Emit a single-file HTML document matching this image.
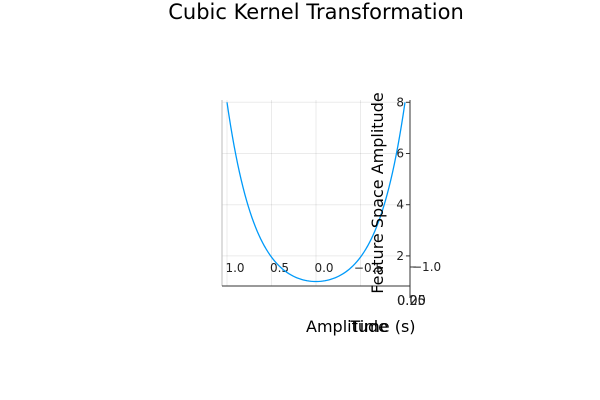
<!DOCTYPE html>
<html><head><meta charset="utf-8"><style>
body{margin:0;background:#fff;}
svg{display:block;font-family:"DejaVu Sans","Liberation Sans",sans-serif;}
</style></head><body>
<svg id="chart" width="600" height="400" viewBox="0 0 600 400">
<rect width="600" height="400" fill="#fff"/>
<text x="316" y="19" font-size="21" text-anchor="middle" fill="#000">Cubic Kernel Transformation</text>
<g id="grid"></g>
<line x1="222" y1="100" x2="222" y2="286" stroke="#bbb" stroke-width="1"/>
<line x1="222" y1="286" x2="410" y2="286" stroke="#333" stroke-width="1"/>
<line x1="410" y1="100" x2="410" y2="298" stroke="#333" stroke-width="1"/>
<g id="xticks"></g>
<g id="yticks"></g>
<path id="curve" fill="none" stroke="#009af9" stroke-width="1.3"/>
<line x1="410" y1="267" x2="416" y2="267" stroke="#333"/>
<text x="412" y="271" font-size="12" fill="#222">−1.0</text>
<text x="397" y="305" font-size="13" fill="#222">0.00</text>
<text x="397" y="305" font-size="13" fill="#222">0.25</text>
<text x="347" y="332" font-size="16" text-anchor="middle" fill="#000">Amplitude</text>
<text x="383" y="332" font-size="16" text-anchor="middle" fill="#000">Time (s)</text>
<text x="0" y="0" font-size="16" text-anchor="middle" fill="#000" transform="translate(383,193) rotate(-90)">Feature Space Amplitude</text>
</svg>
<script>
const xTicks=[1.0,0.5,0.0,-0.5];
const xTickLabels=["1.0","0.5","0.0","−0.5"];
const yTicks=[2,4,6,8];
const yTickLabels=["2","4","6","8"];
const xs=[];for(let i=0;i<=100;i++)xs.push(-1+i*0.02);
const ys=xs.map(x=>Math.pow(1+x*x,3));
function sx(x){return 316-x*89;}
function sy(y){return 281.5-(y-1)*25.6;}
const ns="http://www.w3.org/2000/svg";
const grid=document.getElementById('grid'),xt=document.getElementById('xticks'),yt=document.getElementById('yticks');
xTicks.forEach((v,i)=>{
 const l=document.createElementNS(ns,'line');
 l.setAttribute('x1',sx(v));l.setAttribute('x2',sx(v));l.setAttribute('y1',100);l.setAttribute('y2',286);
 l.setAttribute('stroke','#000');l.setAttribute('stroke-opacity','0.08');
 
 
 grid.appendChild(l);
 const t=document.createElementNS(ns,'text');
 t.setAttribute('x',sx(v)+8);t.setAttribute('y',272);t.setAttribute('font-size','12');t.setAttribute('text-anchor','middle');t.setAttribute('fill','#222');
 t.textContent=xTickLabels[i];
 
 
 xt.appendChild(t);
});
yTicks.forEach((v,i)=>{
 const l=document.createElementNS(ns,'line');
 l.setAttribute('x1',222);l.setAttribute('x2',410);l.setAttribute('y1',sy(v));l.setAttribute('y2',sy(v));
 l.setAttribute('stroke','#000');l.setAttribute('stroke-opacity','0.08');
 
 
 grid.appendChild(l);
 const tk=document.createElementNS(ns,'line');
 tk.setAttribute('x1',406);tk.setAttribute('x2',410);tk.setAttribute('y1',sy(v));tk.setAttribute('y2',sy(v));tk.setAttribute('stroke','#333');
 
 
 yt.appendChild(tk);
 const t=document.createElementNS(ns,'text');
 t.setAttribute('x',404);t.setAttribute('y',sy(v)+4);t.setAttribute('font-size','12');t.setAttribute('text-anchor','end');t.setAttribute('fill','#222');
 t.textContent=yTickLabels[i];
 
 
 yt.appendChild(t);
});
document.getElementById('curve').setAttribute('d',xs.map((x,i)=>(i?'L':'M')+sx(x).toFixed(2)+','+sy(ys[i]).toFixed(2)).join(''));
</script>
</body></html>
